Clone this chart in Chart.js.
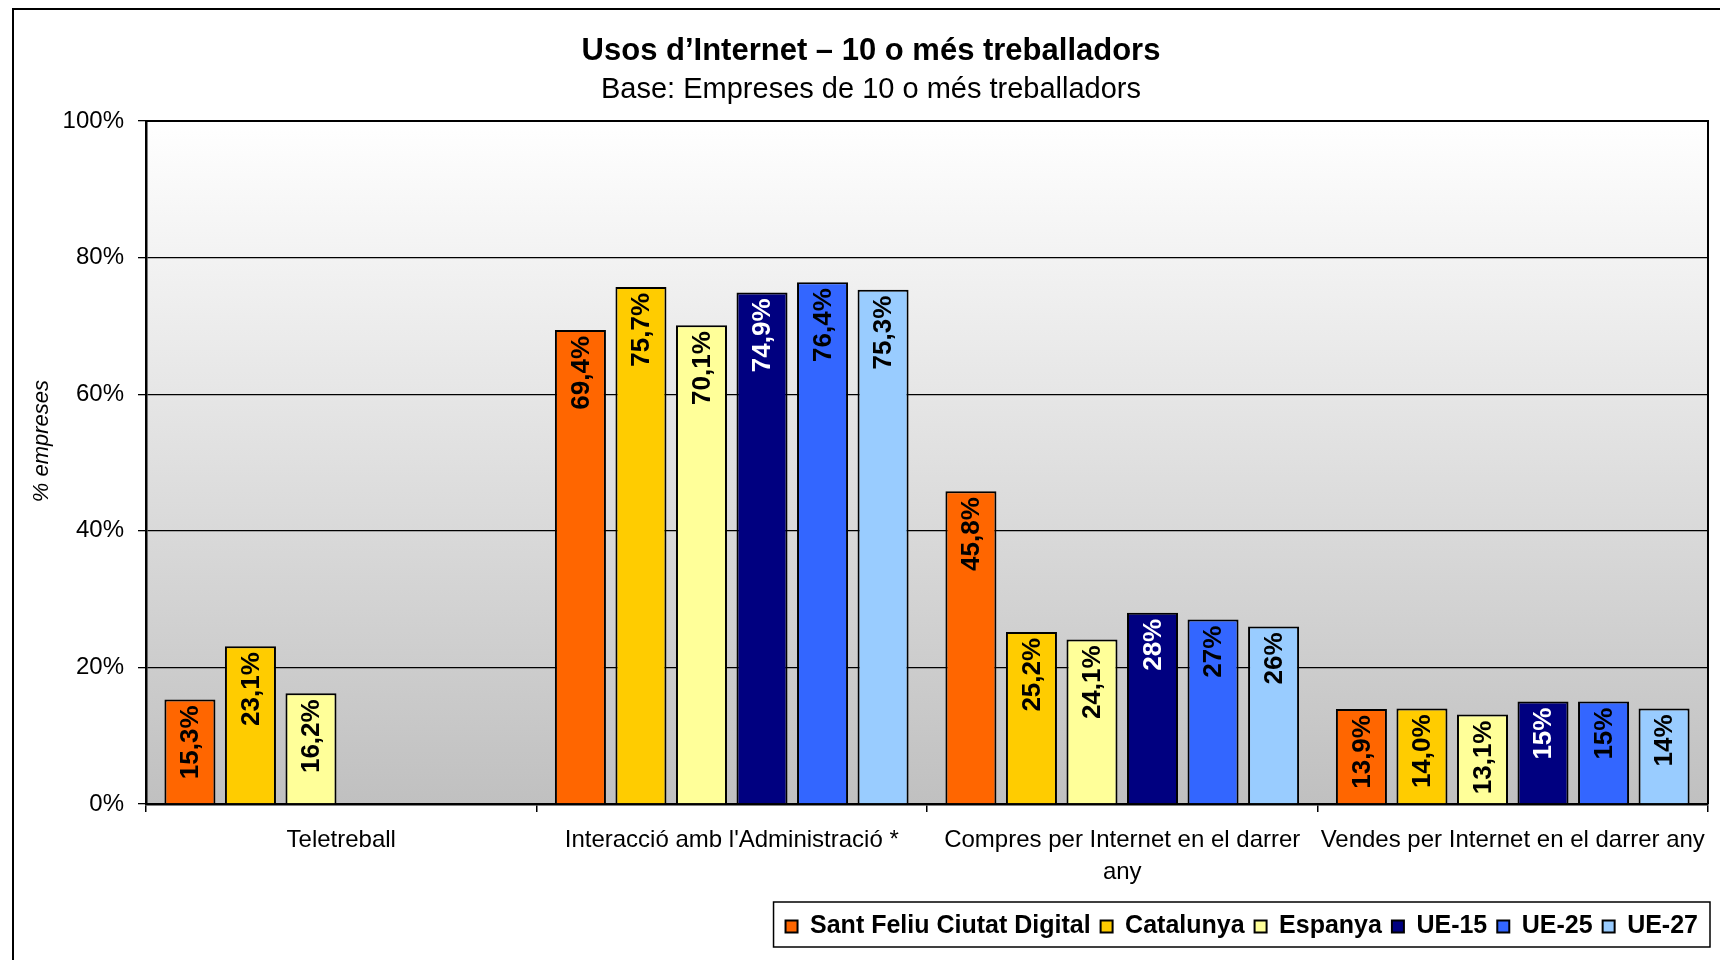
<!DOCTYPE html>
<html>
<head>
<meta charset="utf-8">
<title>Usos d'Internet – 10 o més treballadors</title>
<script src="https://cdn.jsdelivr.net/npm/chart.js@4.4.1/dist/chart.umd.min.js"></script>
<style>
    html, body { margin: 0; padding: 0; background: #fff; }
    #wrap { width: 1720px; height: 960px; }
</style>
</head>
<body>
<div id="wrap"><canvas id="usosChart" width="1720" height="960"></canvas></div>
<script>
// Chart data
const categories = [
    'Teletreball',
    "Interacció amb l'Administració *",
    ['Compres per Internet en el darrer', 'any'],
    'Vendes per Internet en el darrer any'
];
const seriesNames = ['Sant Feliu Ciutat Digital', 'Catalunya', 'Espanya', 'UE-15', 'UE-25', 'UE-27'];
const santFeliu = [15.3, 69.4, 45.8, 13.9];
const catalunya = [23.1, 75.7, 25.2, 14.0];
const espanya = [16.2, 70.1, 24.1, 13.1];
const ue15 = [null, 74.9, 28, 15];
const ue25 = [null, 76.4, 27, 15];
const ue27 = [null, 75.3, 26, 14];
// fixed decimals for the first three series, as-is for the EU ones
const labelDecimals = [1, 1, 1, null, null, null];
const yTicks = [0, 20, 40, 60, 80, 100];

const FONT = "'Liberation Sans', Arial, sans-serif";
const colors = ['#FF6600', '#FFCC00', '#FFFF99', '#000080', '#3366FF', '#99CCFF'];
const labelColors = ['#000', '#000', '#000', '#fff', '#000', '#000'];
const allValues = [santFeliu, catalunya, espanya, ue15, ue25, ue27];

// Format a value the way the labels show it (comma decimals)
function formatValue(v, decimals) {
    const s = decimals === null ? String(v) : v.toFixed(decimals);
    return s.replace('.', ',') + '%';
}

// Background, outer frame and plot gradient
const backgroundPlugin = {
    id: 'background',
    beforeDraw(chart) {
        const { ctx, chartArea: a } = chart;
        ctx.save();
        ctx.fillStyle = '#fff';
        ctx.fillRect(0, 0, chart.width, chart.height);
        const gradient = ctx.createLinearGradient(0, a.top, 0, a.bottom);
        gradient.addColorStop(0, '#ffffff');
        gradient.addColorStop(1, '#c0c0c0');
        ctx.fillStyle = gradient;
        ctx.fillRect(a.left, a.top, a.right - a.left, a.bottom - a.top);
        // outer frame
        ctx.strokeStyle = '#000';
        ctx.lineWidth = 2;
        ctx.beginPath();
        ctx.moveTo(13, chart.height + 5);
        ctx.lineTo(13, 9);
        ctx.lineTo(chart.width + 5, 9);
        ctx.stroke();
        ctx.restore();
    }
};

// Rotated value labels inside the bars + plot border + legend frame
const valueLabelPlugin = {
    id: 'valueLabels',
    afterDatasetsDraw(chart) {
        const { ctx, chartArea: a } = chart;
        ctx.save();
        ctx.strokeStyle = '#000';
        ctx.lineWidth = 2;
        ctx.beginPath();
        ctx.moveTo(a.left, a.top);
        ctx.lineTo(a.right, a.top);
        ctx.lineTo(a.right, a.bottom);
        ctx.stroke();

        ctx.font = `bold 26px ${FONT}`;
        ctx.textAlign = 'right';
        ctx.textBaseline = 'middle';
        chart.data.datasets.forEach((ds, i) => {
            const meta = chart.getDatasetMeta(i);
            meta.data.forEach((bar, j) => {
                const v = ds.data[j];
                if (v === null || v === undefined) return;
                ctx.save();
                ctx.translate(bar.x + 1, bar.y + 6);
                ctx.rotate(-Math.PI / 2);
                ctx.fillStyle = labelColors[i];
                ctx.fillText(formatValue(v, labelDecimals[i]), 0, 0);
                ctx.restore();
            });
        });
        ctx.restore();
    },
    afterDraw(chart) {
        const boxes = chart.legend && chart.legend.legendHitBoxes;
        if (!boxes || !boxes.length) return;
        const first = boxes[0];
        const cy = first.top + first.height / 2;
        const { ctx } = chart;
        ctx.save();
        ctx.strokeStyle = '#000';
        ctx.lineWidth = 1.5;
        const left = first.left - 12;
        ctx.strokeRect(left, cy - 24.5, chart.chartArea.right + 2 - left, 45);
        ctx.restore();
    }
};

const datasets = seriesNames.map((name, i) => ({
    label: name,
    data: allValues[i],
    backgroundColor: colors[i],
    borderColor: '#000',
    borderWidth: 2,
    categoryPercentage: 0.93,
    barPercentage: 0.843
}));

new Chart(document.getElementById('usosChart'), {
    type: 'bar',
    data: { labels: categories, datasets: datasets },
    options: {
        responsive: false,
        animation: false,
        devicePixelRatio: 1,
        layout: { padding: { top: 13, right: 12, bottom: 11, left: 34 } },
        plugins: {
            title: {
                display: true,
                text: 'Usos d\u2019Internet \u2013 10 o més treballadors',
                color: '#000',
                font: { family: FONT, size: 31, weight: 'bold' },
                padding: { top: 20, bottom: 0 }
            },
            subtitle: {
                display: true,
                text: 'Base: Empreses de 10 o més treballadors',
                color: '#000',
                font: { family: FONT, size: 29, weight: 'normal' },
                padding: { top: 2, bottom: 14 }
            },
            legend: {
                position: 'bottom',
                align: 'end',
                labels: {
                    color: '#000',
                    font: { family: FONT, size: 25, weight: 'bold' },
                    boxWidth: 12,
                    boxHeight: 12,
                    padding: 10
                }
            },
            tooltip: { enabled: false }
        },
        scales: {
            x: {
                grid: {
                    display: true,
                    drawOnChartArea: false,
                    drawTicks: true,
                    tickLength: 8,
                    color: '#000',
                    lineWidth: 1.5
                },
                border: { display: true, color: '#000', width: 2.5 },
                ticks: {
                    color: '#000',
                    font: { family: FONT, size: 24, lineHeight: 1.33 },
                    padding: 12,
                    maxRotation: 0,
                    autoSkip: false
                },
                afterFit(scale) { scale.height = 100; }
            },
            y: {
                min: 0,
                max: 100,
                grid: {
                    color: '#000',
                    lineWidth: 1.3,
                    drawTicks: true,
                    tickLength: 8
                },
                border: { display: true, color: '#000', width: 2.5 },
                ticks: {
                    color: '#000',
                    font: { family: FONT, size: 24 },
                    padding: 14,
                    stepSize: 20,
                    callback: value => yTicks.includes(value) ? value + '%' : ''
                },
                title: {
                    display: true,
                    text: '       % empreses',
                    color: '#000',
                    font: { family: FONT, size: 22, style: 'italic' },
                    padding: { top: -5, bottom: 0 }
                },
                afterFit(scale) { scale.width = 112; }
            }
        }
    },
    plugins: [backgroundPlugin, valueLabelPlugin]
});
</script>
</body>
</html>
